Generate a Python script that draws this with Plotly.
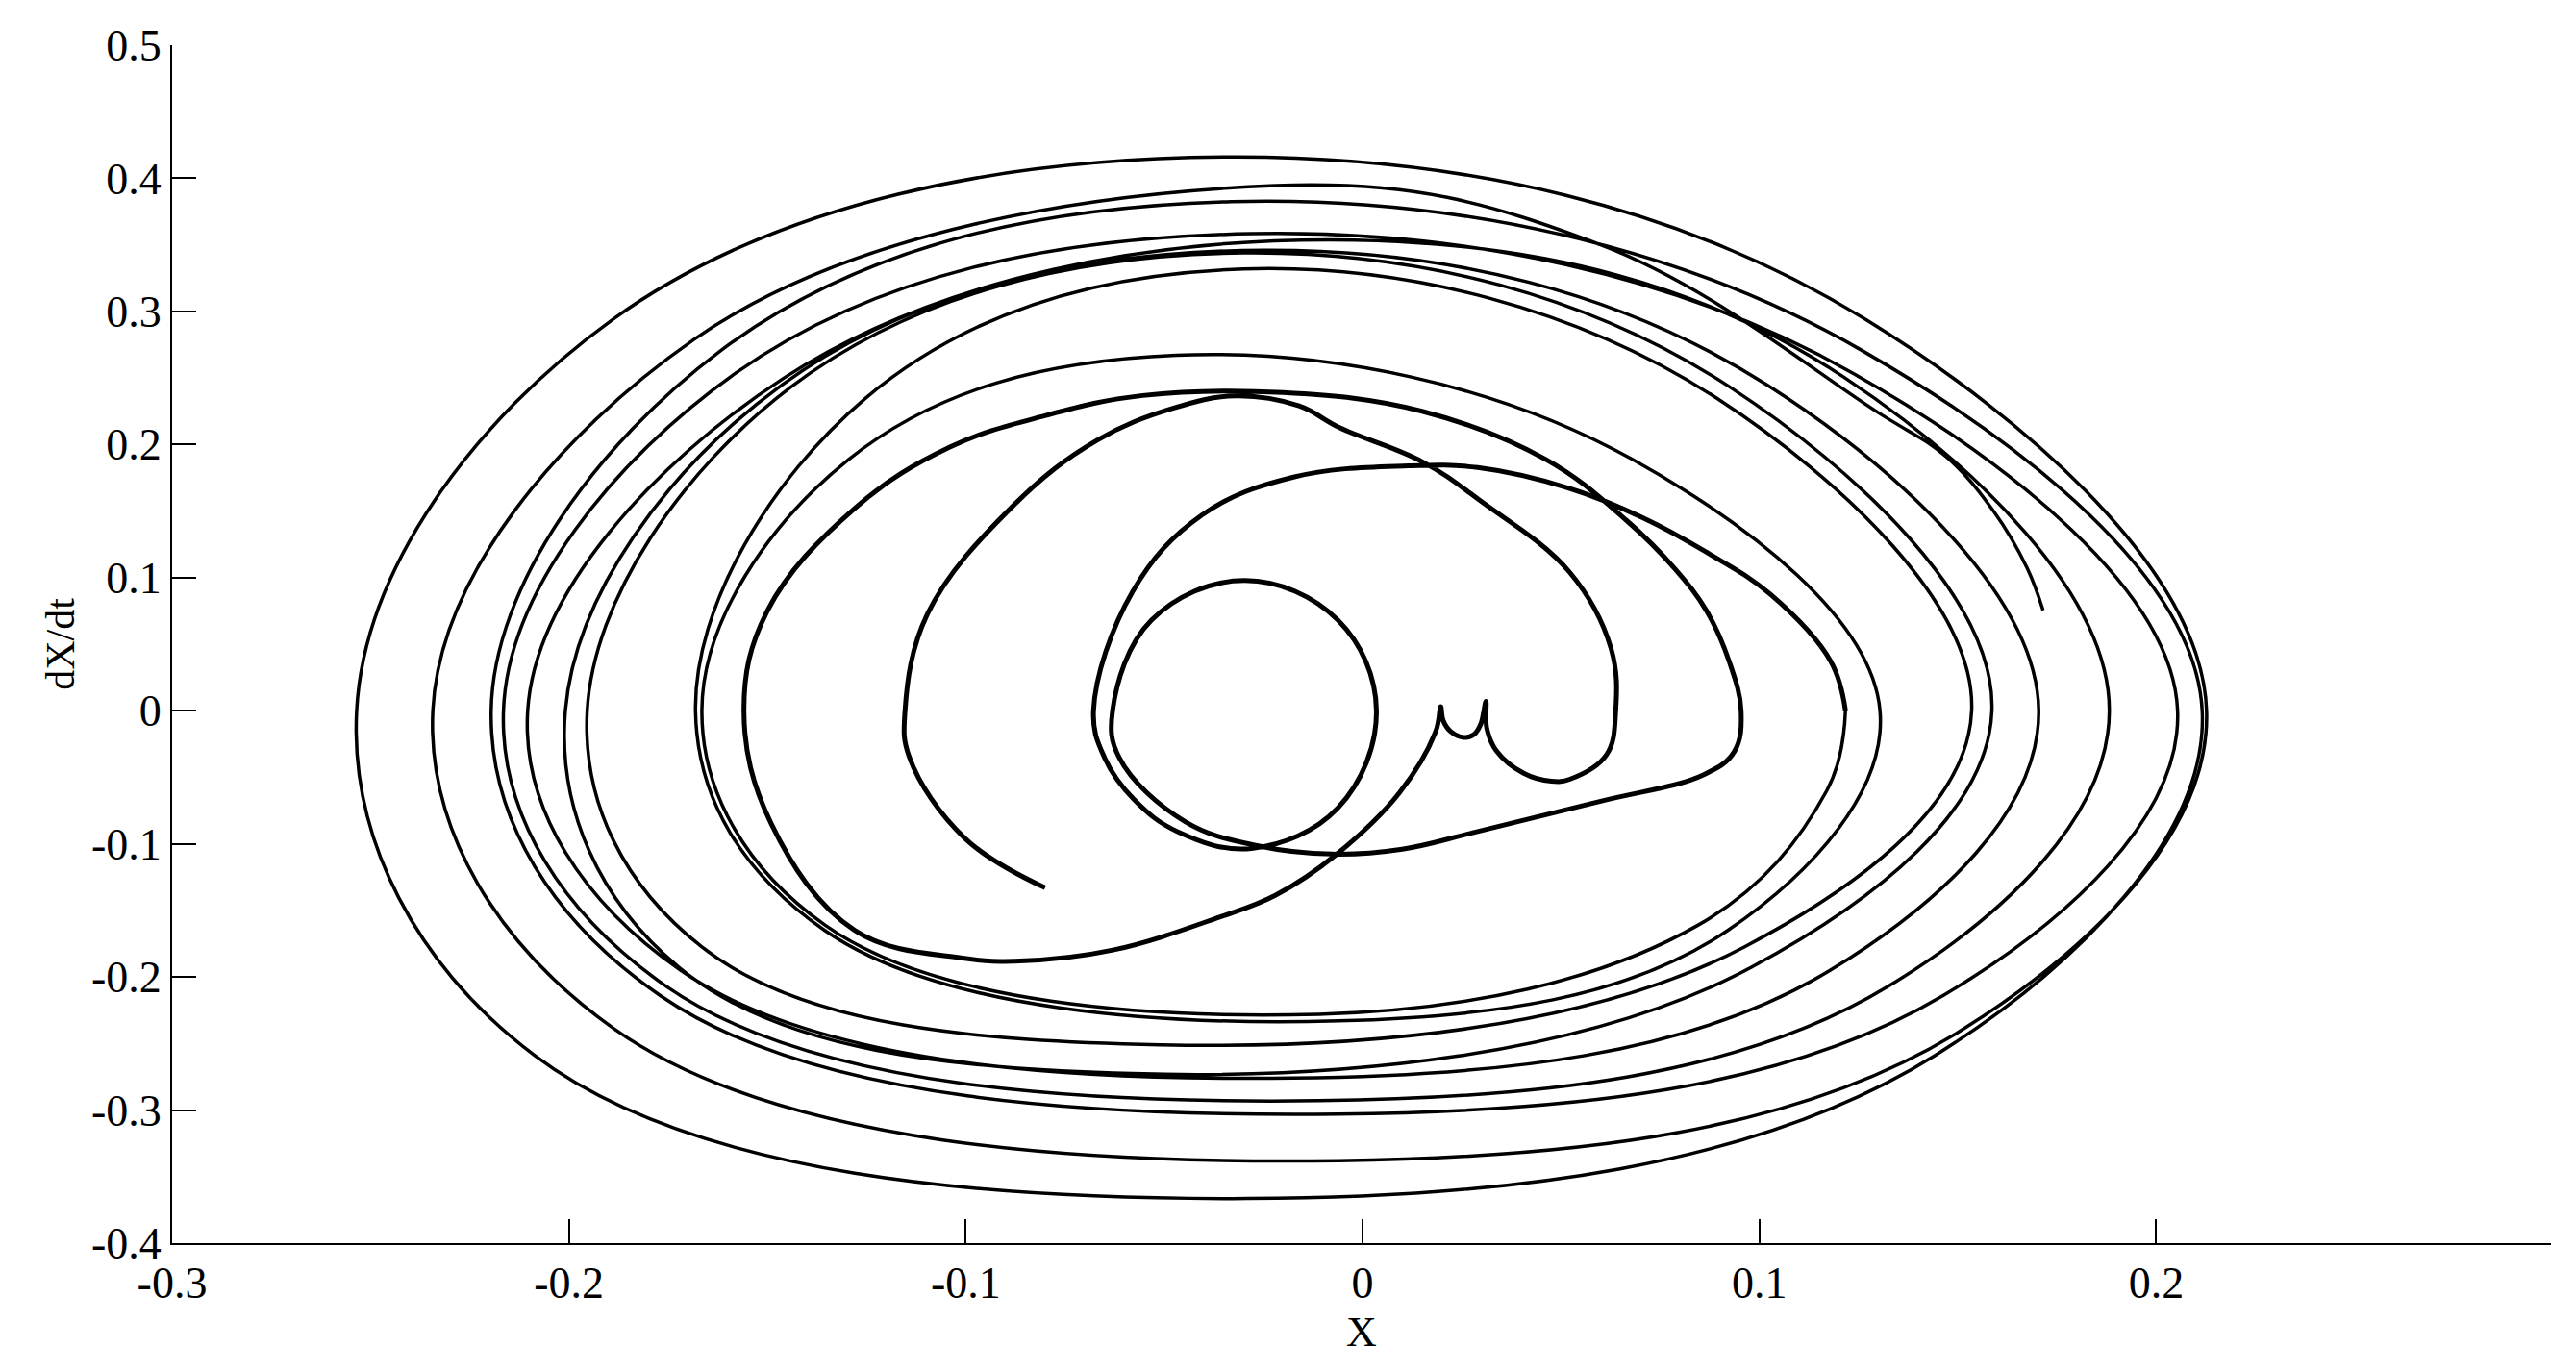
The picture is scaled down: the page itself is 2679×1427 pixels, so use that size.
import plotly.graph_objects as go

# trajectory in the phase plane (X, dX/dt)
# first part: start point, the cusps, the small circle and the first loops
inner_x = [-0.080, -0.1003, -0.1142, -0.1153, -0.1096, -0.0877, -0.0670, -0.048,
           -0.032, -0.016, -0.0058, 0.0151, 0.030, 0.0522, 0.0626, 0.0638, 0.0615,
           0.0522, 0.0476, 0.0406, 0.0337, 0.0313, 0.0311, 0.0298, 0.0282, 0.0255,
           0.0223, 0.0203, 0.0197, 0.0185, 0.0093, -0.0066, -0.022, -0.036, -0.0632,
           -0.0864, -0.1003, -0.128, -0.149, -0.1559, -0.150, -0.128, -0.104,
           -0.0796, -0.0554, -0.020, 0.015, 0.0463, 0.0665, 0.0786, 0.0867, 0.0924,
           0.0954, 0.0937, 0.0860, 0.060, 0.028, 0.010, -0.0076, -0.026, -0.0446,
           -0.0613, -0.063, -0.0532, -0.0297, -0.0062, 0.0035, -0.0062, -0.028,
           -0.0465, -0.0576, -0.065, -0.0678, -0.0579, -0.0405, -0.0174, 0.0116,
           0.029, 0.0522, 0.0706, 0.0867, 0.1028, 0.118, 0.1217]
inner_y = [-0.133, -0.0956, -0.035, 0.0, 0.073, 0.155, 0.203, 0.227,
           0.2365, 0.229, 0.2127, 0.187, 0.157, 0.104, 0.047, 0.0, -0.033,
           -0.0515, -0.053, -0.047, -0.030, -0.013, 0.007, -0.010, -0.0175, -0.020,
           -0.0158, -0.0072, 0.003, -0.015, -0.0616, -0.108, -0.1387, -0.155, -0.180,
           -0.188, -0.186, -0.165, -0.085, 0.0, 0.075, 0.152, 0.198,
           0.222, 0.2368, 0.239, 0.225, 0.1886, 0.143, 0.107, 0.075, 0.037,
           0.0, -0.0306, -0.048, -0.068, -0.0915, -0.104, -0.1077, -0.1017, -0.0836,
           -0.0354, 0.0, 0.068, 0.0978, 0.068, 0.0, -0.073, -0.1035,
           -0.091, -0.0667, -0.0354, 0.0, 0.0898, 0.147, 0.1755, 0.184,
           0.1827, 0.167, 0.145, 0.119, 0.0874, 0.037, 0.0]

# second part: the wide outer loops, ending in the upper right
outer_x = [0.1217, 0.117, 0.0845, -0.011, -0.1354,
           -0.1665, -0.1295, -0.047, 0.068, 0.1304, 0.0922, -0.006, -0.1357,
           -0.1681, -0.1253, -0.030, 0.0893, 0.1535, 0.0962, -0.051, -0.1665,
           -0.1954, -0.1441, -0.030, 0.0926, 0.1586, 0.0980, -0.058, -0.1723,
           -0.2009, -0.1464, -0.025, 0.1020, 0.1704, 0.1178, -0.0175, -0.1718,
           -0.2104, -0.1458, -0.002, 0.1216, 0.1882, 0.1324, -0.011, -0.1754,
           -0.2165, -0.1581, -0.028, 0.1237, 0.2054, 0.1462, -0.006, -0.1769,
           -0.2196, -0.1618, -0.033, 0.1260, 0.2116, 0.1442, -0.029, -0.2086,
           -0.2535, -0.1889, -0.033, 0.1267, 0.2127, 0.1515, -0.006, -0.1886,
           -0.2343, -0.1685, -0.022, 0.060, 0.131, 0.147, 0.159, 0.1675, 0.1715]
outer_y = [0.0, -0.060, -0.1612, -0.228, -0.1612,
           0.0, 0.1888, 0.267, 0.1888, 0.0, -0.1647, -0.233, -0.1647,
           0.0, 0.2347, 0.3319, 0.2347, 0.0, -0.1775, -0.251, -0.1775,
           0.0, 0.2431, 0.3439, 0.2431, 0.0, -0.1927, -0.2726, -0.1927,
           0.0, 0.2446, 0.346, 0.2446, 0.0, -0.1951, -0.276, -0.1951,
           0.0, 0.250, 0.3536, 0.250, 0.0, -0.2072, -0.293, -0.2072,
           0.0, 0.2534, 0.3584, 0.2534, 0.0, -0.2142, -0.303, -0.2142,
           0.0, 0.2704, 0.3825, 0.2704, 0.0, -0.2591, -0.3665, -0.2591,
           0.0, 0.2941, 0.416, 0.2941, 0.0, -0.239, -0.338, -0.239,
           0.0, 0.2789, 0.3945, 0.350, 0.222, 0.191, 0.150, 0.107, 0.0754]

x_ticks = [-0.3, -0.2, -0.1, 0, 0.1, 0.2]
x_labels = ['-0.3', '-0.2', '-0.1', '0', '0.1', '0.2']
y_ticks = [-0.4, -0.3, -0.2, -0.1, 0, 0.1, 0.2, 0.3, 0.4, 0.5]
y_labels = ['-0.4', '-0.3', '-0.2', '-0.1', '0', '0.1', '0.2', '0.3', '0.4', '0.5']

FONT = 'Liberation Serif'

fig = go.Figure()
fig.add_trace(go.Scatter(x=inner_x, y=inner_y, mode='lines', hoverinfo='skip',
                         line={'color': 'black', 'width': 5, 'shape': 'spline',
                               'smoothing': 1.1}))
fig.add_trace(go.Scatter(x=outer_x, y=outer_y, mode='lines', hoverinfo='skip',
                         line={'color': 'black', 'width': 3.5, 'shape': 'spline',
                               'smoothing': 1.1}))

axis_style = dict(showgrid=False, zeroline=False, showline=True, linecolor='black',
                  linewidth=2, ticks='inside', ticklen=25, tickwidth=1.5,
                  tickcolor='black', mirror=False, tickfont={'size': 46})
fig.update_xaxes(range=[-0.3, 0.2995], tickvals=x_ticks, ticktext=x_labels,
                 title={'text': 'X', 'standoff': 10, 'font': {'size': 44}}, **axis_style)
fig.update_yaxes(range=[-0.4, 0.5], tickvals=y_ticks, ticktext=y_labels,
                 title={'text': 'dX/dt', 'standoff': 4, 'font': {'size': 42}}, **axis_style)
fig.update_layout(width=2679, height=1427, showlegend=False,
                  margin={'l': 171, 'r': 34, 't': 39, 'b': 142},
                  paper_bgcolor='white', plot_bgcolor='white',
                  font={'family': FONT, 'size': 44, 'color': 'black'})

fig.write_html("out.html")
